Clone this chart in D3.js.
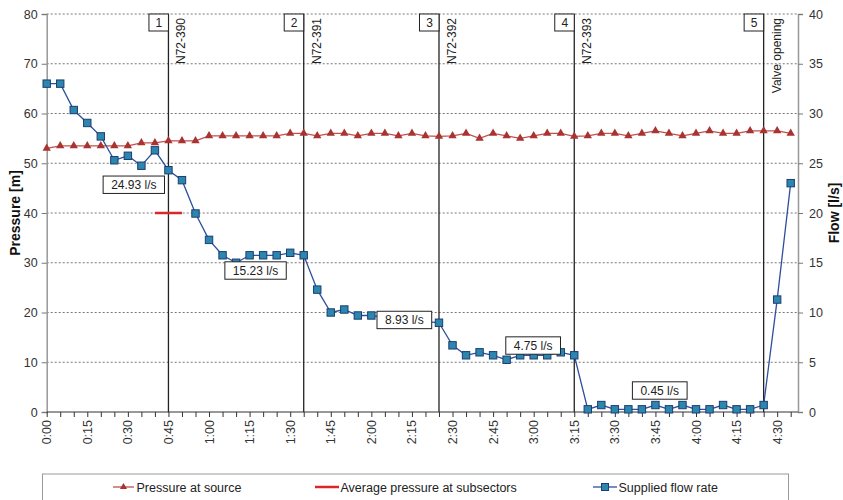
<!DOCTYPE html>
<html><head><meta charset="utf-8">
<script src="https://cdn.jsdelivr.net/npm/d3@7/dist/d3.min.js"></script>
<style>body{margin:0;background:#fff}svg{display:block;font-family:"Liberation Sans",Arial,sans-serif}</style>
</head><body><svg id="c" width="843" height="500"></svg>
<script>
const times = ["0:00","0:05","0:10","0:15","0:20","0:25","0:30","0:35","0:40","0:45","0:50","0:55",
"1:00","1:05","1:10","1:15","1:20","1:25","1:30","1:35","1:40","1:45","1:50","1:55",
"2:00","2:05","2:10","2:15","2:20","2:25","2:30","2:35","2:40","2:45","2:50","2:55",
"3:00","3:05","3:10","3:15","3:20","3:25","3:30","3:35","3:40","3:45","3:50","3:55",
"4:00","4:05","4:10","4:15","4:20","4:25","4:30","4:35"];
const pressureSource = [53.0,53.5,53.5,53.5,53.5,53.5,53.5,54.1,54.1,54.5,54.5,54.5,
55.5,55.5,55.5,55.5,55.5,55.5,56.0,56.0,55.5,56.0,56.0,55.5,
56.0,56.0,55.5,56.0,55.5,55.4,55.5,56.0,55.0,56.0,55.5,55.0,
55.5,56.0,56.0,55.4,55.5,56.0,56.0,55.5,56.0,56.5,56.0,55.5,
56.0,56.5,56.0,56.0,56.5,56.5,56.5,56.0];
const flowRate = [33.0,33.0,30.35,29.05,27.7,25.3,25.75,24.75,26.3,24.3,23.3,19.95,
17.3,15.75,15.0,15.75,15.75,15.75,16.0,15.75,12.3,10.0,10.3,9.7,
9.7,9.5,9.3,9.2,9.1,8.97,6.7,5.7,6.0,5.7,5.25,5.7,
5.7,5.7,6.0,5.7,0.27,0.7,0.27,0.27,0.27,0.7,0.27,0.7,
0.27,0.27,0.7,0.27,0.27,0.7,11.3,23.0];
const avgPressureTimes = ["0:40","0:50"];
const avgPressure = [40,40];
const eventTimes = ["0:45","1:35","2:25","3:15","4:25"];
const eventNumbers = ["1","2","3","4","5"];
const eventNames = ["N72-390","N72-391","N72-392","N72-393","Valve opening"];
const flowLabels = ["24.93 l/s","15.23 l/s","8.93 l/s","4.75 l/s","0.45 l/s"];
const flowLabelMinute = [32.2,77.2,132.2,179.8,226.6];
const flowLabelFlow = [22.84,14.22,9.25,6.68,2.16];
const pressureTicks = [0,10,20,30,40,50,60,70,80];
const flowTicks = [0,5,10,15,20,25,30,35,40];
const legendLabels = ["Pressure at source","Average pressure at subsectors","Supplied flow rate"];

const toMin = s => { const [h,m] = s.split(":").map(Number); return h*60+m; };
const fmt = m => Math.floor(m/60)+":"+String(m%60).padStart(2,"0");

const svg = d3.select("#c");
const L = 46.7, R = 798, T = 14, B = 412;
const x = d3.scaleLinear().domain([0,277.7]).range([L,R]);
const yP = d3.scaleLinear().domain([0,80]).range([B,T]);
const yF = d3.scaleLinear().domain([0,40]).range([B,T]);

// grid
svg.append("g").selectAll("line").data(pressureTicks.filter(d=>d>0)).join("line")
  .attr("x1",L).attr("x2",R).attr("y1",d=>yP(d)).attr("y2",d=>yP(d))
  .attr("stroke","#555").attr("stroke-width",0.8).attr("stroke-dasharray","2,2");

// left axis
const gl = svg.append("g").attr("transform",`translate(${L},0)`)
  .call(d3.axisLeft(yP).tickValues(pressureTicks).tickSize(5).tickPadding(4));
gl.select(".domain").attr("stroke","#999").attr("stroke-width",1.5);
gl.selectAll(".tick line").attr("stroke","#777");
gl.selectAll("text").attr("font-size",12.5).attr("fill","#333").attr("font-family","Liberation Sans, Arial");

// right axis
const gr = svg.append("g").attr("transform",`translate(${R},0)`)
  .call(d3.axisRight(yF).tickValues(flowTicks).tickSize(5).tickPadding(6));
gr.select(".domain").attr("stroke","#999").attr("stroke-width",1.5);
gr.selectAll(".tick line").attr("stroke","#777");
gr.selectAll("text").attr("font-size",12.5).attr("fill","#333").attr("font-family","Liberation Sans, Arial");

// bottom axis
const ticks5 = d3.range(0,276,5);
const gb = svg.append("g").attr("transform",`translate(0,${B})`)
  .call(d3.axisBottom(x).tickValues(ticks5).tickSize(5).tickFormat(d=> d%15===0 ? fmt(d) : ""));
gb.select(".domain").attr("stroke","#333").attr("d",`M${L},0H${R}`);
gb.selectAll(".tick line").attr("stroke","#333");
gb.selectAll("text").attr("font-size",12.5).attr("fill","#333").attr("font-family","Liberation Sans, Arial")
  .attr("transform","rotate(-90)").attr("text-anchor","end").attr("y",0).attr("x",-8).attr("dy","0.32em");

// axis titles
svg.append("text").attr("transform",`translate(20,213) rotate(-90)`).attr("text-anchor","middle")
  .attr("font-size",14).attr("font-weight","bold").attr("fill","#111").text("Pressure [m]");
svg.append("text").attr("transform",`translate(839,213) rotate(-90)`).attr("text-anchor","middle")
  .attr("font-size",14).attr("font-weight","bold").attr("fill","#111").text("Flow [l/s]");

// event lines
eventTimes.forEach((t,i)=>{
  const xx = x(toMin(t));
  svg.append("line").attr("x1",xx).attr("x2",xx).attr("y1",T).attr("y2",B).attr("stroke","#222").attr("stroke-width",1.3);
  svg.append("rect").attr("x",xx-19.5).attr("y",T).attr("width",19.5).attr("height",17)
    .attr("fill","#fff").attr("stroke","#222").attr("stroke-width",1);
  svg.append("text").attr("x",xx-9.5).attr("y",T+13).attr("text-anchor","middle").attr("font-size",12).attr("fill","#222").text(eventNumbers[i]);
  svg.append("text").attr("transform",`translate(${xx+17},${T+4}) rotate(-90)`).attr("text-anchor","end")
    .attr("font-size",12).attr("fill","#222").text(eventNames[i]);
});

// pressure at source
const pts = times.map((t,i)=>({m:toMin(t),p:pressureSource[i],f:flowRate[i]}));
svg.append("path").datum(pts).attr("fill","none").attr("stroke","#c0504d").attr("stroke-width",1.3)
  .attr("d",d3.line().x(d=>x(d.m)).y(d=>yP(d.p)));
svg.append("g").selectAll("path").data(pts).join("path")
  .attr("transform",d=>`translate(${x(d.m)},${yP(d.p)})`)
  .attr("d",d3.symbol(d3.symbolTriangle,30)).attr("fill","#a93331");

// average pressure
const avg = avgPressureTimes.map((t,i)=>({m:toMin(t),p:avgPressure[i]}));
svg.append("path").datum(avg).attr("fill","none").attr("stroke","#d9282a").attr("stroke-width",2.5)
  .attr("d",d3.line().x(d=>x(d.m)).y(d=>yP(d.p)));

// flow
svg.append("path").datum(pts).attr("fill","none").attr("stroke","#2d4f9c").attr("stroke-width",1.3)
  .attr("d",d3.line().x(d=>x(d.m)).y(d=>yF(d.f)));
svg.append("g").selectAll("rect").data(pts).join("rect")
  .attr("x",d=>x(d.m)-3.7).attr("y",d=>yF(d.f)-3.7).attr("width",7.4).attr("height",7.4)
  .attr("fill","#2b87ad").attr("stroke","#1d3d73").attr("stroke-width",1);

// flow labels
flowLabels.forEach((lab,i)=>{
  const cx = x(flowLabelMinute[i]), cy = yF(flowLabelFlow[i]);
  const g = svg.append("g");
  const t = g.append("text").attr("x",cx).attr("y",cy+4.3).attr("text-anchor","middle").attr("font-size",12).attr("fill","#222").text(lab);
  const w = t.node().getComputedTextLength()+16;
  g.insert("rect","text").attr("x",cx-w/2).attr("y",cy-8.7).attr("width",w).attr("height",17.4)
    .attr("fill","#fff").attr("stroke","#222").attr("stroke-width",1);
});

// legend
svg.append("rect").attr("x",42.5).attr("y",474).attr("width",746).attr("height",30)
  .attr("fill","#fff").attr("stroke","#999").attr("stroke-width",1);
const ly = 487;
svg.append("line").attr("x1",113).attr("x2",134).attr("y1",ly).attr("y2",ly).attr("stroke","#c0504d").attr("stroke-width",1.3);
svg.append("path").attr("transform",`translate(123.5,${ly})`).attr("d",d3.symbol(d3.symbolTriangle,22)).attr("fill","#a93331");
svg.append("text").attr("x",136.5).attr("y",ly+4.5).attr("font-size",12.5).attr("fill","#222").text(legendLabels[0]);
svg.append("line").attr("x1",315).attr("x2",339).attr("y1",ly).attr("y2",ly).attr("stroke","#d9282a").attr("stroke-width",2.5);
svg.append("text").attr("x",340.5).attr("y",ly+4.5).attr("font-size",12.5).attr("fill","#222").text(legendLabels[1]);
svg.append("line").attr("x1",593).attr("x2",617).attr("y1",ly).attr("y2",ly).attr("stroke","#2d4f9c").attr("stroke-width",1.3);
svg.append("rect").attr("x",601.5).attr("y",ly-3.5).attr("width",7).attr("height",7).attr("fill","#2b87ad").attr("stroke","#1d3d73");
svg.append("text").attr("x",618.5).attr("y",ly+4.5).attr("font-size",12.5).attr("fill","#222").text(legendLabels[2]);
</script></body></html>
